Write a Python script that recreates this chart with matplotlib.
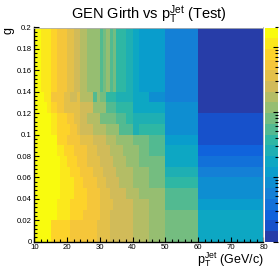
import numpy as np
import matplotlib
matplotlib.use('Agg')
import matplotlib.pyplot as plt
from matplotlib.colors import ListedColormap, BoundaryNorm
from matplotlib.ticker import MultipleLocator, FuncFormatter, LogLocator, NullFormatter

plt.rcParams['font.family'] = ['Liberation Sans', 'DejaVu Sans']
plt.rcParams['mathtext.fontset'] = 'custom'
plt.rcParams['mathtext.rm'] = 'Liberation Sans'

# bin edges of the histogram
pt_edges = list(range(10, 51)) + [60, 80]
g_edges = [0.0, 0.01, 0.02, 0.03, 0.04, 0.05, 0.06, 0.07, 0.08, 0.09, 0.10,
           0.11, 0.12, 0.13, 0.14, 0.20]

# colour level (0..19) of each cell, rows listed from top (g=0.2) to bottom (g=0)
levels_top_down = [
    [19, 19, 18, 18, 18, 17, 17, 16, 16, 16, 15, 15, 14, 14, 13, 13, 12, 12, 12, 12,
     10, 11, 12, 10, 11, 9, 9, 9, 8, 8, 7, 7, 6, 6, 6, 6, 6, 6, 6, 6, 4, 0],
    [19, 19, 19, 18, 18, 16, 16, 16, 16, 15, 15, 14, 14, 15, 13, 13, 13, 13, 10, 12,
     11, 11, 9, 9, 9, 8, 8, 8, 8, 8, 7, 7, 7, 7, 7, 5, 5, 5, 5, 5, 4, 0],
    [19, 19, 19, 19, 18, 17, 17, 16, 16, 15, 15, 15, 15, 15, 14, 14, 14, 14, 12, 12,
     12, 12, 10, 10, 10, 9, 9, 9, 9, 9, 7, 7, 7, 7, 7, 7, 7, 7, 7, 7, 5, 0],
    [19, 19, 19, 19, 19, 18, 18, 17, 17, 17, 16, 16, 15, 15, 14, 14, 13, 13, 13, 13,
     11, 11, 11, 11, 11, 10, 10, 10, 9, 9, 8, 8, 8, 8, 8, 8, 8, 8, 8, 8, 5, 1],
    [19, 19, 19, 19, 19, 18, 18, 17, 17, 17, 17, 16, 16, 15, 14, 14, 14, 14, 13, 13,
     13, 13, 12, 12, 12, 12, 10, 10, 10, 10, 8, 8, 9, 9, 9, 9, 9, 9, 9, 9, 5, 1],
    [19, 19, 19, 19, 19, 19, 19, 17, 17, 17, 16, 16, 16, 16, 15, 15, 15, 15, 14, 14,
     14, 14, 13, 13, 13, 12, 12, 12, 12, 12, 11, 11, 11, 11, 11, 10, 10, 10, 10, 10, 6, 1],
    [19, 19, 19, 19, 19, 19, 19, 18, 18, 17, 17, 17, 16, 16, 16, 16, 15, 15, 15, 14,
     14, 14, 14, 13, 13, 13, 13, 12, 12, 12, 12, 12, 11, 11, 11, 10, 10, 10, 10, 10, 7, 2],
    [19, 19, 19, 19, 19, 19, 19, 19, 18, 18, 17, 17, 17, 16, 16, 16, 15, 15, 15, 15,
     14, 14, 14, 14, 13, 13, 13, 13, 12, 12, 12, 12, 11, 11, 11, 11, 11, 11, 11, 11, 7, 3],
    [19, 19, 19, 19, 19, 19, 19, 19, 18, 18, 18, 17, 17, 17, 16, 16, 16, 16, 15, 15,
     15, 14, 14, 14, 14, 13, 13, 13, 13, 13, 12, 12, 12, 12, 12, 11, 11, 11, 11, 11, 8, 4],
    [19, 19, 19, 19, 19, 19, 19, 19, 18, 18, 18, 18, 17, 17, 17, 16, 16, 16, 16, 15,
     15, 15, 14, 14, 14, 14, 13, 13, 13, 13, 12, 12, 12, 12, 12, 11, 11, 11, 11, 11, 9, 5],
    [19, 19, 19, 19, 19, 19, 19, 19, 18, 18, 18, 18, 17, 17, 17, 17, 16, 16, 16, 16,
     15, 15, 15, 14, 14, 14, 14, 14, 13, 13, 13, 13, 12, 12, 12, 12, 12, 12, 12, 12, 10, 5],
    [19, 19, 19, 19, 19, 19, 19, 18, 18, 18, 18, 17, 17, 17, 17, 17, 16, 16, 16, 16,
     15, 15, 15, 15, 14, 14, 14, 14, 14, 14, 13, 13, 13, 13, 13, 12, 12, 12, 12, 12, 10, 6],
    [19, 19, 19, 19, 19, 19, 19, 18, 18, 18, 18, 17, 17, 17, 17, 16, 16, 16, 16, 16,
     15, 15, 15, 14, 14, 14, 14, 14, 14, 14, 13, 13, 13, 13, 13, 12, 12, 12, 12, 12, 11, 7],
    [19, 19, 19, 19, 19, 17, 17, 17, 17, 17, 17, 16, 16, 16, 16, 16, 16, 16, 16, 15,
     15, 15, 15, 14, 14, 14, 14, 14, 14, 14, 13, 13, 13, 13, 13, 12, 12, 12, 12, 12, 11, 7],
    [19, 19, 19, 19, 19, 17, 17, 17, 17, 17, 17, 16, 16, 16, 16, 16, 16, 16, 16, 15,
     15, 15, 15, 14, 14, 14, 14, 14, 14, 14, 13, 13, 13, 13, 13, 12, 12, 12, 12, 12, 11, 7],
]

# colour bar range (log z)
z_low, z_high = 1e-3, 2.0

# ROOT kBird palette, 20 contour colours
stops = [0.0, 0.125, 0.25, 0.375, 0.5, 0.625, 0.75, 0.875, 1.0]
red = [0.2082, 0.0592, 0.0780, 0.0232, 0.1802, 0.5301, 0.8186, 0.9956, 0.9764]
green = [0.1664, 0.3599, 0.5041, 0.6419, 0.7178, 0.7492, 0.7328, 0.7862, 0.9832]
blue = [0.5293, 0.8684, 0.8385, 0.7914, 0.6425, 0.4662, 0.3499, 0.1968, 0.0539]
pos = np.array([int((i + 0.99) * 255 / 20) for i in range(20)]) / 254.0
colors = np.column_stack([np.interp(pos, stops, red), np.interp(pos, stops, green),
                          np.interp(pos, stops, blue)])
cmap = ListedColormap(colors)
norm = BoundaryNorm(np.arange(21) - 0.5, 20)

z = np.array(levels_top_down[::-1])

fig = plt.figure(figsize=(2.79, 2.70), dpi=100)
W, H = 279.0, 270.0
left, right, top, bottom = 34.3, 263.5, 27.5, 241.7
ax = fig.add_axes([left / W, 1 - bottom / H, (right - left) / W, (bottom - top) / H])
ax.pcolormesh(pt_edges, g_edges, z, cmap=cmap, norm=norm)
ax.set_xlim(10, 80)
ax.set_ylim(0, 0.2)

ax.xaxis.set_major_locator(MultipleLocator(10))
ax.xaxis.set_minor_locator(MultipleLocator(2))
ax.yaxis.set_major_locator(MultipleLocator(0.02))
ax.yaxis.set_minor_locator(MultipleLocator(0.004))
ax.yaxis.set_major_formatter(FuncFormatter(lambda v, p: '%g' % round(v, 3)))
ax.tick_params(which='both', direction='in', top=False, right=False, width=0.8,
               labelsize=5.6, pad=2)
ax.tick_params(which='major', length=3.6)
ax.tick_params(which='minor', length=1.9)
for s in ['left', 'bottom']:
    ax.spines[s].set_linewidth(1.0)
for s in ['top', 'right']:
    ax.spines[s].set_color('#b0b0b0')
    ax.spines[s].set_linewidth(0.6)

# palette on the right edge
cax = fig.add_axes([264.5 / W, 1 - bottom / H, 13.5 / W, (bottom - top) / H])
cb_edges = np.geomspace(z_low, z_high, 21)
cax.pcolormesh([0, 1], cb_edges, np.arange(20).reshape(-1, 1), cmap=cmap, norm=norm)
cax.set_yscale('log')
cax.set_ylim(z_low, z_high)
cax.set_xlim(0, 1)
cax.set_xticks([])
cax.yaxis.tick_right()
cax.yaxis.set_major_locator(LogLocator(base=10))
cax.yaxis.set_minor_locator(LogLocator(base=10, subs=np.arange(2, 10)))
cax.yaxis.set_minor_formatter(NullFormatter())
cax.tick_params(which='both', direction='in', labelright=False, width=0.8)
cax.tick_params(which='major', length=3.6)
cax.tick_params(which='minor', length=1.9)
for s in cax.spines.values():
    s.set_visible(False)

fig.text(148.5 / W, 1 - 18.5 / H, r'GEN Girth vs $\mathregular{p_{T}^{Jet}}$ (Test)',
         ha='center', va='baseline', fontsize=10.5)
fig.text(263.5 / W, 1 - 263.5 / H, r'$\mathregular{p_{T}^{Jet}}$ (GeV/c)',
         ha='right', va='baseline', fontsize=9)
fig.text(8.5 / W, 1 - 27 / H, 'g', rotation=90, ha='center', va='top', fontsize=9)

fig.savefig('out.png', dpi=100)
